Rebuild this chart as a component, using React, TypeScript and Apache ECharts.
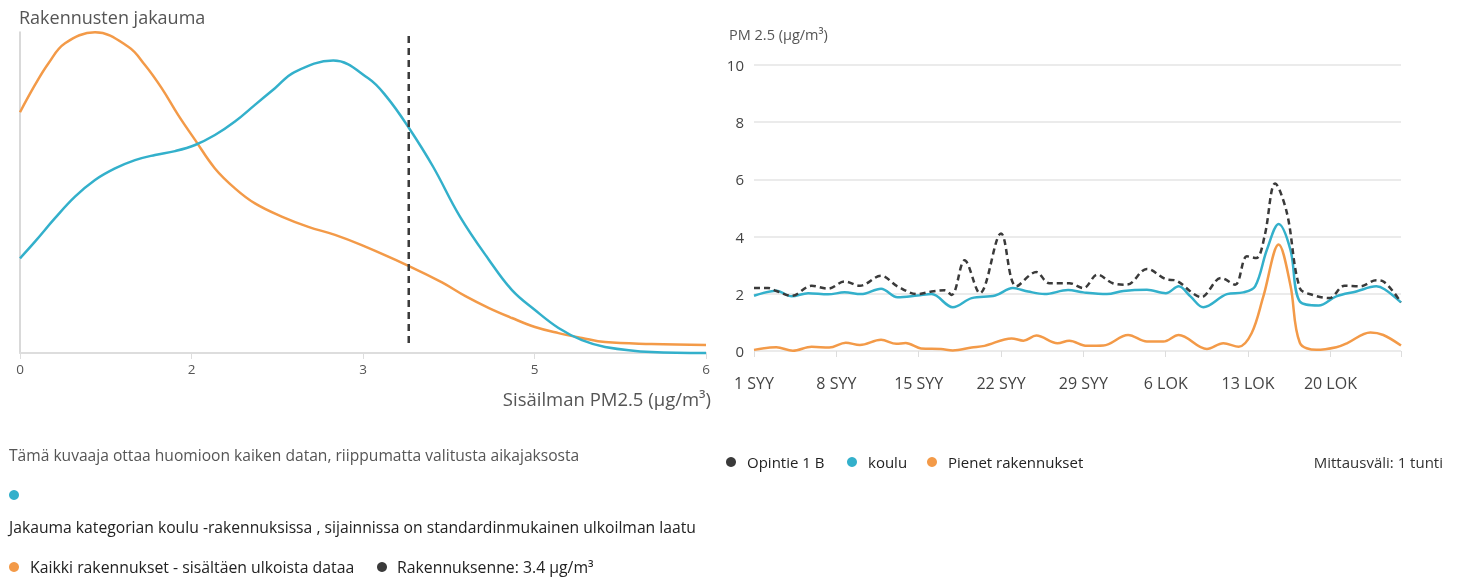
import React, { useEffect, useRef } from "react";
import * as echarts from "echarts";

// ---- Left chart: density (KDE) curves ----
const kdeAllX = [0, 0.131, 0.248, 0.394, 0.656, 0.947, 1.093, 1.239, 1.384, 1.531, 1.705, 1.88, 2.055, 2.289, 2.522, 2.755, 2.989, 3.402, 3.691, 3.896, 4.102, 4.303, 4.504, 4.71, 4.915, 5.117, 5.523, 6.0];
const kdeAllY = [0.75, 0.835, 0.902, 0.965, 0.999, 0.954, 0.897, 0.825, 0.741, 0.664, 0.575, 0.513, 0.466, 0.425, 0.393, 0.368, 0.336, 0.271, 0.22, 0.177, 0.14, 0.109, 0.081, 0.062, 0.047, 0.034, 0.028, 0.025];
const kdeSchoolX = [0, 0.131, 0.306, 0.481, 0.656, 0.831, 1.006, 1.181, 1.356, 1.531, 1.705, 1.88, 2.055, 2.23, 2.405, 2.74, 3.046, 3.207, 3.402, 3.612, 3.848, 4.102, 4.303, 4.504, 4.71, 4.915, 5.117, 5.523, 6.0];
const kdeSchoolY = [0.295, 0.347, 0.42, 0.487, 0.539, 0.575, 0.601, 0.617, 0.629, 0.648, 0.679, 0.721, 0.773, 0.825, 0.876, 0.911, 0.856, 0.798, 0.701, 0.581, 0.425, 0.29, 0.196, 0.134, 0.078, 0.04, 0.019, 0.003, 0.0];
const buildingValue = 3.4;
const markerRange = [0.031, 0.997];

// ---- Right chart: time series (day offset from 1 SYY) ----
const opintieDays = [0, 1.2, 1.9, 3.2, 4.9, 6.3, 7.7, 9.0, 10.8, 12.2, 13.9, 15.1, 16.2, 16.8, 17.9, 19.2, 21.0, 22.3, 24.0, 25.1, 26.8, 28.0, 29.2, 30.5, 31.7, 33.4, 35.0, 35.9, 37.3, 38.0, 39.7, 40.9, 41.9, 42.7, 43.4, 44.3, 45.3, 46.4, 47.5, 48.9, 50.2, 51.5, 52.9, 53.5, 55.0];
const opintieValues = [2.2, 2.2, 2.1, 1.93, 2.28, 2.18, 2.43, 2.28, 2.63, 2.26, 1.99, 2.08, 2.12, 1.96, 3.17, 2.02, 4.11, 2.26, 2.76, 2.37, 2.37, 2.2, 2.67, 2.37, 2.32, 2.87, 2.51, 2.46, 2.02, 1.88, 2.55, 2.32, 3.31, 3.25, 4.01, 5.86, 4.83, 2.2, 1.96, 1.85, 2.28, 2.26, 2.47, 2.43, 1.7];
const kouluDays = [0, 1.9, 3.2, 4.6, 6.3, 7.7, 9.1, 10.8, 12.2, 13.9, 15.1, 16.9, 18.5, 20.5, 22.0, 23.3, 24.7, 26.7, 28.0, 30.0, 31.4, 33.4, 35.0, 36.1, 37.1, 38.2, 40.2, 41.6, 42.6, 43.6, 44.6, 45.6, 46.4, 48.0, 49.5, 51.2, 52.9, 53.6, 55.0];
const kouluValues = [1.93, 2.11, 1.91, 2.02, 1.98, 2.05, 1.99, 2.18, 1.88, 1.94, 1.99, 1.53, 1.85, 1.94, 2.2, 2.08, 1.99, 2.13, 2.05, 1.99, 2.1, 2.14, 2.02, 2.26, 1.91, 1.53, 1.99, 2.05, 2.26, 3.54, 4.44, 3.54, 1.73, 1.59, 1.91, 2.08, 2.26, 2.16, 1.7];
const pienetDays = [0, 1.9, 3.3, 4.9, 6.4, 7.8, 9.0, 10.8, 12.1, 12.9, 14.2, 15.9, 16.9, 18.5, 19.6, 21.9, 22.9, 24.0, 25.8, 26.8, 28.3, 29.7, 31.8, 33.4, 34.8, 36.1, 38.5, 39.9, 41.2, 42.3, 43.3, 44.6, 45.6, 46.4, 47.8, 49.5, 50.4, 52.4, 53.5, 55.0];
const pienetValues = [0.04, 0.13, 0.01, 0.15, 0.12, 0.29, 0.21, 0.39, 0.25, 0.28, 0.09, 0.07, 0.02, 0.12, 0.18, 0.44, 0.36, 0.54, 0.27, 0.36, 0.18, 0.19, 0.56, 0.33, 0.33, 0.56, 0.07, 0.27, 0.15, 0.62, 1.91, 3.72, 2.3, 0.29, 0.04, 0.13, 0.27, 0.65, 0.56, 0.19];
const dateTickLabels = ["1 SYY", "8 SYY", "15 SYY", "22 SYY", "29 SYY", "6 LOK", "13 LOK", "20 LOK"];
const yTickValues = [0, 2, 4, 6, 8, 10];

const ORANGE = "#f39a48";
const BLUE = "#33b0cb";
const DARK = "#3a3a3a";
const FONT = "'Open Sans'";

const zip = (xs: number[], ys: number[]) => xs.map((x, i) => [x, ys[i]]);

export default function App() {
  const ref = useRef<HTMLDivElement>(null);
  useEffect(() => {
    if (!ref.current) return;
    const chart = echarts.init(ref.current, null, { renderer: "svg" });
    const txt = (text: string, x: number, y: number, size: number, fill: string, align = "left") => ({
      type: "text",
      x,
      y,
      style: { text, fill, font: `${size}px ${FONT}`, textAlign: align, textVerticalAlign: "middle" },
    });
    const dot = (cx: number, cy: number, fill: string) => ({
      type: "circle",
      shape: { cx, cy, r: 5 },
      style: { fill },
    });
    chart.setOption({
      animation: false,
      textStyle: { fontFamily: "Open Sans" },
      grid: [
        { left: 20, top: 32, width: 686, height: 321 },
        { left: 754, top: 65, width: 647, height: 286 },
      ],
      xAxis: [
        {
          gridIndex: 0,
          type: "value",
          min: 0,
          max: 6,
          interval: 1.5,
          axisLine: { show: true, lineStyle: { color: "#dddddd", width: 2 } },
          axisTick: { show: true, length: 6, lineStyle: { color: "#dddddd" } },
          axisLabel: { color: "#555", fontSize: 13.5, margin: 9, formatter: (v: number) => String(Math.round(v)) },
          splitLine: { show: false },
        },
        {
          gridIndex: 1,
          type: "value",
          min: 0,
          max: 55,
          interval: 7,
          axisLine: { show: false },
          axisTick: { show: true, length: 6, lineStyle: { color: "#dddddd" } },
          axisLabel: {
            color: "#444",
            fontSize: 16,
            margin: 24,
            formatter: (v: number) => (v % 7 === 0 ? dateTickLabels[v / 7] ?? "" : ""),
          },
          splitLine: { show: false },
        },
      ],
      yAxis: [
        {
          gridIndex: 0,
          type: "value",
          min: 0,
          max: 1,
          axisLine: { show: true, lineStyle: { color: "#cccccc", width: 1.5 } },
          axisTick: { show: false },
          axisLabel: { show: false },
          splitLine: { show: false },
        },
        {
          gridIndex: 1,
          type: "value",
          min: yTickValues[0],
          max: yTickValues[yTickValues.length - 1],
          interval: 2,
          axisLine: { show: false },
          axisTick: { show: false },
          axisLabel: { color: "#444", fontSize: 15, margin: 10 },
          splitLine: { show: true, lineStyle: { color: "#ebebeb", width: 2 } },
        },
      ],
      series: [
        {
          type: "line",
          xAxisIndex: 0,
          yAxisIndex: 0,
          data: zip(kdeAllX, kdeAllY),
          smooth: 0.4,
          clip: false,
          showSymbol: false,
          lineStyle: { color: ORANGE, width: 2.5 },
          itemStyle: { color: ORANGE },
        },
        {
          type: "line",
          xAxisIndex: 0,
          yAxisIndex: 0,
          data: zip(kdeSchoolX, kdeSchoolY),
          smooth: 0.4,
          clip: false,
          showSymbol: false,
          lineStyle: { color: BLUE, width: 2.5 },
          itemStyle: { color: BLUE },
        },
        {
          type: "line",
          xAxisIndex: 0,
          yAxisIndex: 0,
          data: markerRange.map((y) => [buildingValue, y]),
          clip: false,
          showSymbol: false,
          lineStyle: { color: DARK, width: 2.5, type: [7, 5] },
        },
        {
          type: "line",
          xAxisIndex: 1,
          yAxisIndex: 1,
          data: zip(pienetDays, pienetValues),
          smooth: 0.35,
          clip: false,
          showSymbol: false,
          lineStyle: { color: ORANGE, width: 2.5 },
        },
        {
          type: "line",
          xAxisIndex: 1,
          yAxisIndex: 1,
          data: zip(kouluDays, kouluValues),
          smooth: 0.35,
          clip: false,
          showSymbol: false,
          lineStyle: { color: BLUE, width: 2.5 },
        },
        {
          type: "line",
          xAxisIndex: 1,
          yAxisIndex: 1,
          data: zip(opintieDays, opintieValues),
          smooth: 0.35,
          clip: false,
          showSymbol: false,
          lineStyle: { color: DARK, width: 2.5, type: [6, 4] },
        },
      ],
      graphic: [
        txt("Rakennusten jakauma", 19, 17, 18, "#555"),
        txt("Sisäilman PM2.5 (µg/m³)", 711, 398, 18.5, "#555", "right"),
        txt("PM 2.5 (µg/m³)", 729, 34, 14.5, "#555"),
        txt("Tämä kuvaaja ottaa huomioon kaiken datan, riippumatta valitusta aikajaksosta", 9, 455, 15.6, "#555"),
        dot(14, 495, BLUE),
        txt("Jakauma kategorian koulu -rakennuksissa , sijainnissa on standardinmukainen ulkoilman laatu", 9, 527, 15.7, "#222"),
        dot(14, 567, ORANGE),
        txt("Kaikki rakennukset - sisältäen ulkoista dataa", 30, 567, 15.8, "#222"),
        dot(382, 567, DARK),
        txt("Rakennuksenne: 3.4 µg/m³", 397, 567, 15.8, "#222"),
        dot(731, 462, DARK),
        txt("Opintie 1 B", 747, 462, 15, "#222"),
        dot(852, 462, BLUE),
        txt("koulu", 868, 462, 15, "#222"),
        dot(932, 462, ORANGE),
        txt("Pienet rakennukset", 948, 462, 15, "#222"),
        txt("Mittausväli: 1 tunti", 1443, 462, 15, "#333", "right"),
      ],
    });
    return () => chart.dispose();
  }, []);
  return <div ref={ref} style={{ position: "fixed", left: 0, top: 0, width: 1461, height: 579 }} />;
}
